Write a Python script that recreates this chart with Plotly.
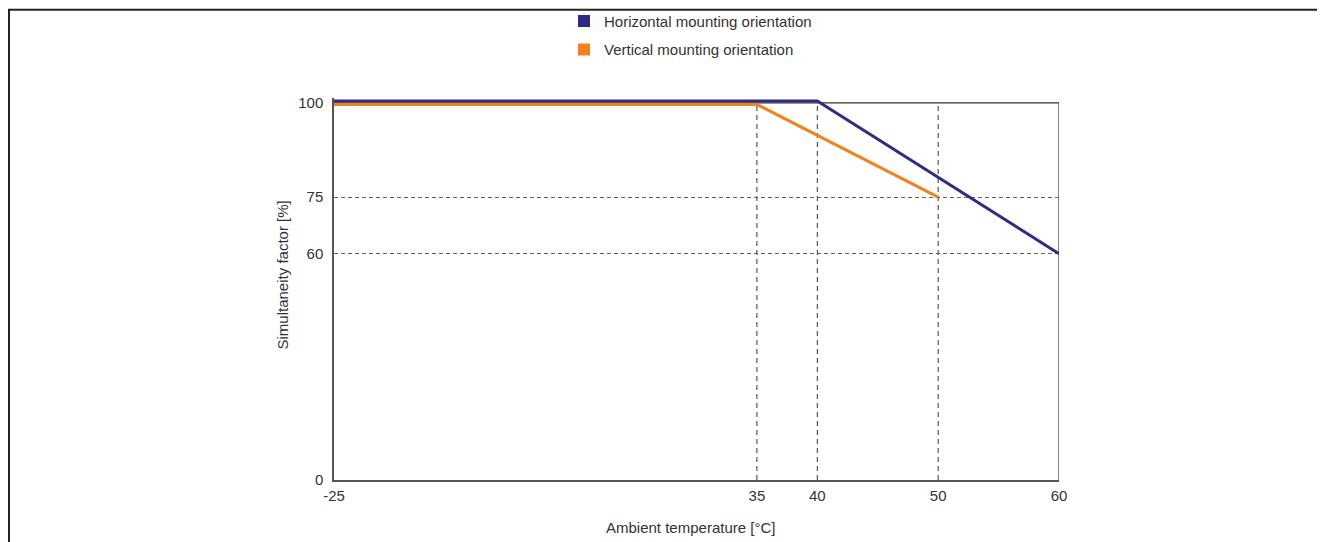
import plotly.graph_objects as go

# ---- data ----
horizontal_temp = [-25, 40, 60]
horizontal_factor = [100.5, 100.5, 60]
vertical_temp = [-25, 35, 50]
vertical_factor = [99.6, 99.6, 75]
x_tick_values = [-25, 35, 40, 50, 60]
x_tick_labels = ["-25", "35", "40", "50", "60"]
y_tick_values = [0, 60, 75, 100]
y_tick_labels = ["0", "60", "75", "100"]
series_names = ["Horizontal mounting orientation", "Vertical mounting orientation"]
series_colors = ["#302c84", "#f0831f"]
x_title = "Ambient temperature [°C]"
y_title = "Simultaneity factor [%]"


def axis_pos(t):
    # the original axis compresses the -25..35 span into the 0..35 width
    if t >= 35:
        return t
    return (t + 25) * 35.0 / 60.0


OFF = 8  # page body margin
W, H = 1325 - OFF, 542 - OFF
Y_MAX = 101.3  # a little headroom so the top line is not clipped
PX_PER_UNIT = (480.5 - 102.5) / 100.0
# plot area in figure pixel coordinates
L, R = 334 - OFF, 1059 - OFF
B = 480.5 - OFF
T = B - Y_MAX * PX_PER_UNIT


def px_x(p):
    return (p - L) / (R - L)


def px_y(p):
    return (B - p) / (B - T)


fig = go.Figure()

x_lo, x_hi = axis_pos(x_tick_values[0]), axis_pos(x_tick_values[-1])
y_lo, y_hi = y_tick_values[0], y_tick_values[-1]

# vertical dashed grid lines, stopping at the top of the box
for v in x_tick_values[1:-1]:
    fig.add_shape(type="line", xref="x", yref="y", layer="below",
                  x0=axis_pos(v), x1=axis_pos(v), y0=y_lo, y1=y_hi,
                  line=dict(color="#333333", width=1, dash="5px,4px"))

# plot box top and right edges (drawn under the traces)
fig.add_shape(type="line", xref="x", yref="y", layer="below",
              x0=x_lo, x1=x_hi, y0=y_hi, y1=y_hi,
              line=dict(color="#333333", width=1.2))
fig.add_shape(type="line", xref="x", yref="y", layer="below",
              x0=x_hi, x1=x_hi, y0=y_lo, y1=y_hi,
              line=dict(color="#333333", width=1.2))

for name, xs, ys, col in [
    (series_names[0], horizontal_temp, horizontal_factor, series_colors[0]),
    (series_names[1], vertical_temp, vertical_factor, series_colors[1]),
]:
    fig.add_trace(go.Scatter(
        x=[axis_pos(v) for v in xs], y=ys, mode="lines",
        line=dict(color=col, width=3), showlegend=False, cliponaxis=False,
        hoverinfo="skip",
    ))

for i, (name, col) in enumerate(zip(series_names, series_colors)):
    fig.add_trace(go.Scatter(
        x=[None], y=[None], mode="markers", name=name,
        marker=dict(symbol="square", size=12, color=col),
        legendgroup="g%d" % i,
    ))

font_family = "Liberation Sans, Arial, sans-serif"
text_color = "#333333"

fig.update_layout(
    width=W, height=H,
    margin=dict(l=L, r=W - R, t=T, b=H - B, pad=0, autoexpand=False),
    paper_bgcolor="white", plot_bgcolor="white",
    font=dict(family=font_family, size=15, color=text_color),
    showlegend=True,
    legend=dict(
        orientation="v", x=px_x(556), y=px_y(-4), xanchor="left", yanchor="top",
        font=dict(size=15, color=text_color), tracegroupgap=6,
        bgcolor="rgba(0,0,0,0)", itemclick=False, itemdoubleclick=False,
    ),
    xaxis=dict(
        range=[x_lo, x_hi],
        tickmode="array",
        tickvals=[axis_pos(v) for v in x_tick_values], ticktext=x_tick_labels,
        showgrid=False,
        showline=True, linecolor="#555555", linewidth=1.5, mirror=False,
        zeroline=False, ticks="", ticklabelstandoff=1, automargin=False,
        layer="below traces",
    ),
    yaxis=dict(
        range=[0, Y_MAX], tickmode="array",
        tickvals=y_tick_values, ticktext=y_tick_labels,
        showgrid=True, gridcolor="#666666", griddash="4px,3px", gridwidth=1,
        showline=True, linecolor="#555555", linewidth=1.5, mirror=False,
        zeroline=False, ticks="", ticklabelstandoff=6, automargin=False,
        layer="below traces",
    ),
    annotations=[
        dict(text=x_title, xref="paper", yref="paper",
             x=px_x(690 - OFF), y=px_y(528.5 - OFF),
             xanchor="center", yanchor="middle", showarrow=False,
             font=dict(size=15, color=text_color)),
        dict(text=y_title, xref="paper", yref="paper", textangle=-90,
             x=px_x(282.5 - OFF), y=px_y(275 - OFF),
             xanchor="center", yanchor="middle", showarrow=False,
             font=dict(size=15, color=text_color)),
    ],
)

# outer frame (left and top edges)
fig.add_shape(
    type="path", xref="paper", yref="paper",
    path="M %f %f L %f %f L %f %f" % (
        px_x(1), px_y(H + 10), px_x(1), px_y(1), px_x(W + 10), px_y(1)),
    line=dict(color="#222222", width=2),
)

fig.write_html("out.html")
